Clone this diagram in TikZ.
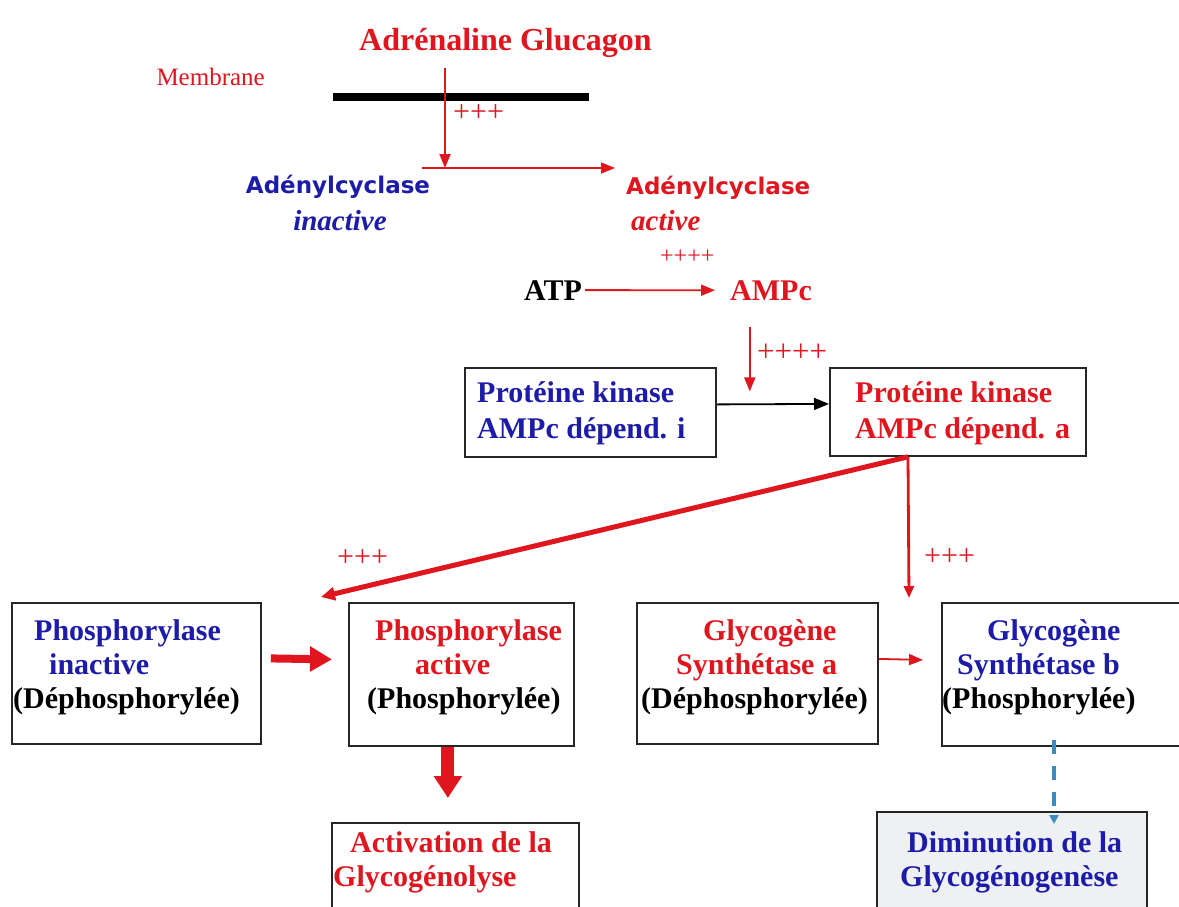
\documentclass[tikz,border=0pt]{standalone}
\usepackage{fontspec}
\setmainfont{Liberation Serif}
\newfontfamily\acfont{DejaVu Sans}
\usetikzlibrary{arrows.meta,positioning,calc}
\definecolor{glyred}{HTML}{E0161E}
\definecolor{glyblue}{HTML}{1C1CA8}
\definecolor{glyteal}{HTML}{3A8CC0}
\definecolor{glygray}{HTML}{EEF0F4}

\tikzset{
  lbl/.style={inner sep=0pt},
  signs/.style={inner sep=0pt, anchor=west, text=glyred},
  boxnode/.style={draw=black!85, line width=1.8pt, inner sep=0pt, anchor=north west},
  boxtxt/.style={inner sep=0pt, anchor=north west, align=left,
                 font=\bfseries\fontsize{30}{34}\selectfont},
  thinarrow/.style={-{Triangle[length=14pt,width=11pt]}, line width=1.8pt, glyred},
  blackarrow/.style={-{Triangle[length=15pt,width=12pt]}, line width=1.8pt, black},
  diagarrow/.style={-{Triangle[length=14pt,width=13pt]}, line width=5pt, glyred},
  vertarrow/.style={-{Triangle[length=12pt,width=10pt]}, line width=2.8pt, glyred},
  blockarrow/.style={-{Triangle[length=22pt,width=24pt]}, line width=8pt, glyred},
  blockdown/.style={-{Triangle[length=22pt,width=27pt]}, line width=13pt, glyred},
  dasharrow/.style={-{Triangle[length=9pt,width=9pt]}, line width=3.5pt, glyteal,
                    dash pattern=on 14pt off 12pt}
}

\begin{document}
\begin{tikzpicture}[x=1pt,y=-1pt]
\useasboundingbox (0,0) rectangle (1179,906);
\fill[white] (0,0) rectangle (1179,906);

% hormones and membrane
\node[lbl, font=\bfseries\fontsize{32}{32}\selectfont, text=glyred, anchor=base west] (horm) at (359,50) {Adrénaline Glucagon};
\node[lbl, font=\fontsize{25}{25}\selectfont, text=glyred, anchor=base east] (memb) at (265,85) {Membrane};
\draw[line width=8pt] (333,97) -- (589,97);

% adenylcyclase
\node[lbl, font=\acfont\bfseries\fontsize{23}{23}\selectfont, text=glyblue, anchor=base] (adi) at (338,193) {Adénylcyclase};
\node[lbl, font=\bfseries\itshape\fontsize{29}{29}\selectfont, text=glyblue, anchor=base] (adiI) at (340,230) {inactive};
\node[lbl, font=\acfont\bfseries\fontsize{23}{23}\selectfont, text=glyred, anchor=base west] (ada) at (626,194) {Adénylcyclase};
\node[lbl, font=\bfseries\itshape\fontsize{29}{29}\selectfont, text=glyred, anchor=base west] (adaA) at (631,230) {active};
\coordinate (acL) at (422,168);
\coordinate (hit) at (445,168);

\draw[thinarrow] ([yshift=-11pt]horm.south -| hit) -- (hit);
\draw[thinarrow, shorten >=11pt] (acL) -- (acL -| ada.west);
\node[signs, font=\fontsize{30}{30}\selectfont] (s1) at (453,113) {+++};

% ATP -> AMPc
\node[lbl, font=\bfseries\fontsize{30}{30}\selectfont, anchor=base west] (atp) at (524,300) {ATP};
\node[lbl, font=\bfseries\fontsize{30}{30}\selectfont, text=glyred, anchor=base west] (ampc) at (730,300) {AMPc};
\draw[thinarrow, shorten <=3pt, shorten >=15pt] (atp.east) -- (ampc.west);
\node[signs, font=\fontsize{24}{24}\selectfont] (s2) at (660,257) {++++};

% proteine kinase
\node[boxnode, minimum width=251pt, minimum height=89pt] (pkiB) at (464,367) {};
\node[boxnode, minimum width=256pt, minimum height=88pt] (pkaB) at (829,367) {};
\node[boxtxt, font=\bfseries\fontsize{30}{36}\selectfont, text=glyblue] (pki) at (477,381.5) {Protéine kinase\\AMPc dépend. i};
\node[boxtxt, font=\bfseries\fontsize{30}{36}\selectfont, text=glyred] (pka) at (855,381.5) {Protéine kinase\\AMPc dépend. a};
\coordinate (kin) at ($(pkiB.east)+(33,-21)$);
\draw[thinarrow] ([yshift=-27pt]ampc.south -| kin) -- (kin);
\node[signs, font=\fontsize{31}{31}\selectfont] (s3) at (757,353) {++++};
\draw[blackarrow] ([yshift=8pt]pkiB.east) -- ([yshift=8pt]pkaB.west);

% phosphorylase and glycogene synthetase
\node[boxnode, minimum width=249pt, minimum height=141pt] (phiB) at (11,602) {};
\node[boxnode, minimum width=225pt, minimum height=143pt] (phaB) at (348,602) {};
\node[boxnode, minimum width=241pt, minimum height=141pt] (synaB) at (636,602) {};
\node[boxnode, minimum width=260pt, minimum height=143pt] (synbB) at (941,602) {};

\node[boxtxt] (phi) at (13,619.5)
  {\hspace*{21pt}\textcolor{glyblue}{Phosphorylase}\\\hspace*{36pt}\textcolor{glyblue}{inactive}\\(Déphosphorylée)};
\node[boxtxt] (pha) at (367,619.5)
  {\hspace*{8pt}\textcolor{glyred}{Phosphorylase}\\\hspace*{48pt}\textcolor{glyred}{active}\\(Phosphorylée)};
\node[boxtxt] (syna) at (641,619.5)
  {\hspace*{62pt}\textcolor{glyred}{Glycogène}\\\hspace*{35pt}\textcolor{glyred}{Synthétase a}\\(Déphosphorylée)};
\node[boxtxt] (synb) at (942,619.5)
  {\hspace*{45pt}\textcolor{glyblue}{Glycogène}\\\hspace*{15pt}\textcolor{glyblue}{Synthétase b}\\(Phosphorylée)};

\draw[diagarrow] ([xshift=79pt]pkaB.south west) -- ([shift={(-27pt,5pt)}]phaB.north west);
\draw[vertarrow] ([xshift=79pt]pkaB.south west) -- ([shift={(-32pt,4pt)}]synbB.north west);
\node[signs, font=\fontsize{30}{30}\selectfont] (s4) at (337,558) {+++};
\node[signs, font=\fontsize{30}{30}\selectfont] (s5) at (924,557) {+++};

\draw[blockarrow] ([shift={(9pt,15pt)}]phiB.east) -- ([shift={(-16pt,15pt)}]phaB.west);
\draw[thinarrow] ([yshift=14.5pt]synaB.east) -- ([shift={(-18pt,14.5pt)}]synbB.west);

% results
\node[boxnode, minimum width=247pt, minimum height=100pt] (actB) at (331,822) {};
\node[boxnode, fill=glygray, minimum width=270pt, minimum height=110pt] (dimB) at (876,811) {};
\node[boxtxt, text=glyred] (actg) at (333,831.5) {\hspace*{17pt}Activation de la\\Glycogénolyse};
\node[boxtxt, text=glyblue] (dimg) at (900,831.5) {\hspace*{7pt}Diminution de la\\Glycogénogenèse};

\draw[blockdown] ([xshift=-13.5pt]phaB.south) -- ([shift={(-13.5pt,24pt)}]phaB.south |- actB.north);
\draw[dasharrow] ([shift={(113pt,7pt)}]synbB.south west) -- ([shift={(178pt,-13pt)}]dimB.north west);
\end{tikzpicture}
\end{document}
